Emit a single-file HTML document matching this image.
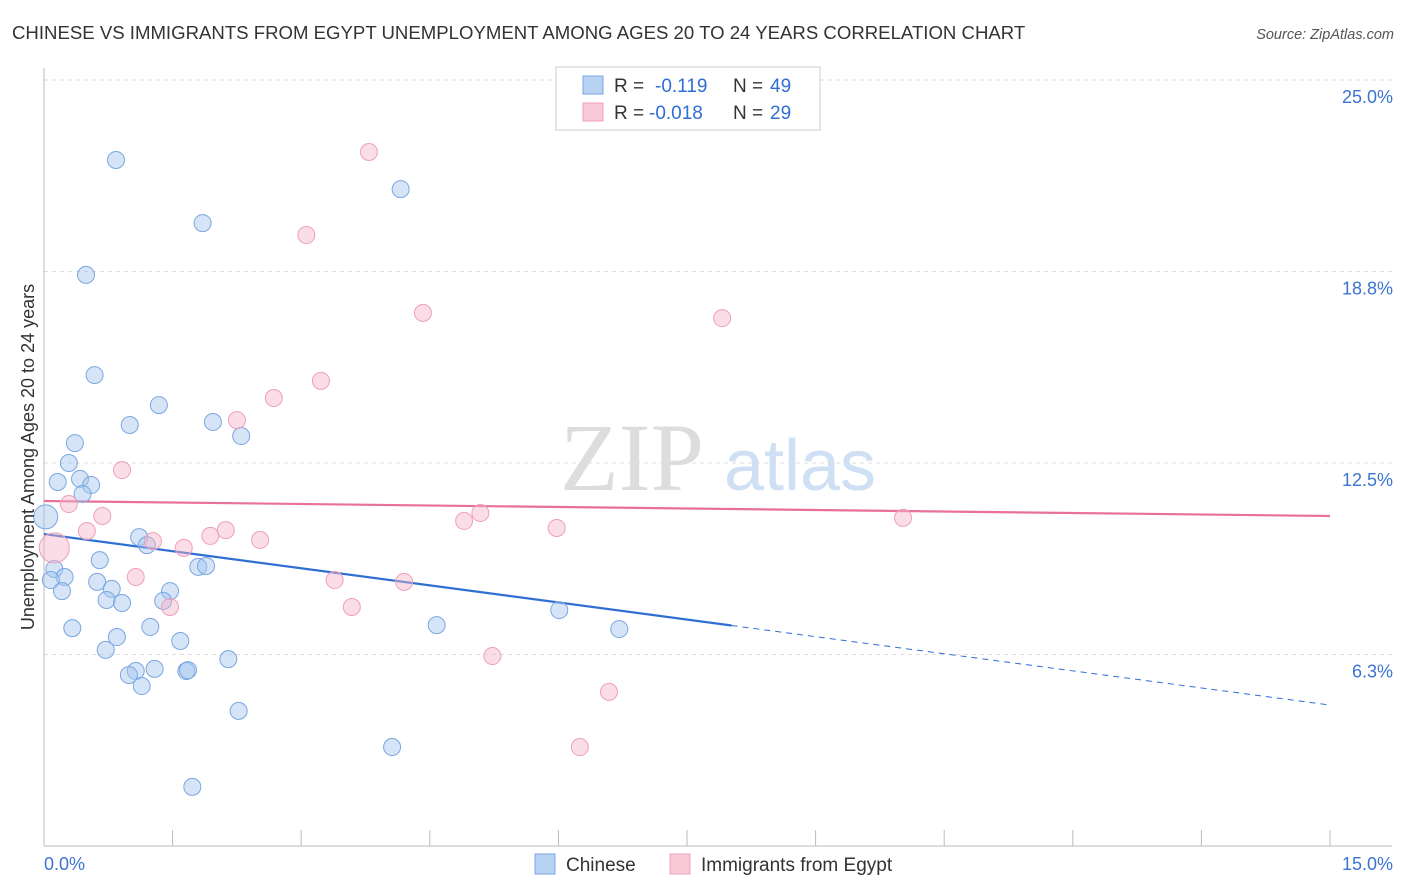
<!DOCTYPE html>
<html><head><meta charset="utf-8"><style>
body{margin:0;background:#fff;font-family:"Liberation Sans",sans-serif}
svg{display:block}
</style></head><body>
<svg id="chart" width="1406" height="892" xmlns="http://www.w3.org/2000/svg">
<text x="12" y="39" font-size="18.6" fill="#333">CHINESE VS IMMIGRANTS FROM EGYPT UNEMPLOYMENT AMONG AGES 20 TO 24 YEARS CORRELATION CHART</text>
<text x="1394" y="39" font-size="14.5" fill="#555" text-anchor="end" font-style="italic">Source: ZipAtlas.com</text>
<g>
<text x="632" y="490" font-size="96" fill="#ddd" text-anchor="middle" font-family="Liberation Serif,serif">ZIP</text>
<text x="800" y="490" font-size="72" fill="#cfe0f4" text-anchor="middle">atlas</text>
</g>
<g id="grid"></g>
<g id="axes"></g>
<g id="trends"></g>
<g id="points"></g>
<g>
<rect x="556" y="67" width="264" height="63" fill="#fff" stroke="#ccc"/>
<rect x="583" y="76" width="20" height="18" fill="#b8d2f3" stroke="#7aa7e0"/>
<rect x="583" y="103" width="20" height="18" fill="#f9c9d8" stroke="#eea0bc"/>
<text x="614" y="92" font-size="19" fill="#333">R = <tspan x="655" fill="#2f6fd3">-0.119</tspan><tspan x="733">N = </tspan><tspan x="770" fill="#2f6fd3">49</tspan></text>
<text x="614" y="119" font-size="19" fill="#333">R = <tspan x="649" fill="#2f6fd3">-0.018</tspan><tspan x="733">N = </tspan><tspan x="770" fill="#2f6fd3">29</tspan></text>
</g>
<g>
<rect x="535" y="854" width="20" height="20" fill="#b8d2f3" stroke="#7aa7e0"/>
<text x="566" y="871" font-size="19" fill="#333">Chinese</text>
<rect x="670" y="854" width="20" height="20" fill="#f9c9d8" stroke="#eea0bc"/>
<text x="701" y="871" font-size="19" fill="#333">Immigrants from Egypt</text>
</g>
<text transform="translate(34,457) rotate(-90)" font-size="18" fill="#333" text-anchor="middle">Unemployment Among Ages 20 to 24 years</text>
</svg>
<script>
const yTicks=[25,18.75,12.5,6.25];
const yTickLabels=["25.0%","18.8%","12.5%","6.3%"];
const xTickLabels=["0.0%","15.0%"];
const blueX=[0.84,4.16,1.85,0.49,0.59,1.34,1.00,1.97,2.30,0.36,0.29,0.16,0.42,0.55,0.45,0.02,1.11,1.20,0.12,0.24,0.08,0.21,0.65,0.62,0.79,1.47,1.80,1.89,0.73,0.91,1.39,0.33,1.24,0.85,1.59,4.58,6.01,6.71,0.72,2.15,1.07,0.99,1.29,1.66,1.68,1.14,2.27,4.06,1.73];
const blueY=[22.39,21.44,20.33,18.64,15.37,14.39,13.74,13.84,13.38,13.15,12.50,11.88,11.98,11.78,11.49,10.74,10.08,9.82,9.04,8.78,8.68,8.32,9.33,8.62,8.39,8.32,9.11,9.14,8.03,7.93,8.00,7.11,7.15,6.82,6.69,7.21,7.70,7.08,6.40,6.10,5.71,5.58,5.78,5.71,5.74,5.22,4.41,3.23,1.93];
const pinkX=[3.79,3.06,4.42,7.91,3.23,2.68,2.25,0.91,0.29,0.68,0.50,0.12,1.27,1.63,1.94,2.12,2.52,4.90,5.09,5.98,10.02,1.07,3.39,4.20,1.47,3.59,5.23,6.59,6.25];
const pinkY=[22.65,19.94,17.40,17.23,15.18,14.62,13.90,12.27,11.16,10.77,10.28,9.73,9.95,9.73,10.12,10.31,9.99,10.61,10.87,10.38,10.71,8.78,8.68,8.62,7.80,7.80,6.20,5.03,3.23];
const blueTrend=[10.18,4.60];
const pinkTrend=[11.26,10.77];
const NS="http://www.w3.org/2000/svg";
const xs=v=>44+v/15*1286;
const ys=v=>846-v/25*766;
function mk(tag,attrs,parent){const e=document.createElementNS(NS,tag);for(const k in attrs)e.setAttribute(k,attrs[k]);parent.appendChild(e);return e;}
const grid=document.getElementById('grid'),axes=document.getElementById('axes'),tr=document.getElementById('trends'),pts=document.getElementById('points');
yTicks.forEach((t,i)=>{
 const l=mk('line',{x1:44,x2:1392,y1:ys(t),y2:ys(t),stroke:'#ddd','stroke-dasharray':'4,4'},grid);
 
 
 const tx=mk('text',{x:1393,y:ys(t)+23,'font-size':18,fill:'#3a75d0','text-anchor':'end'},axes);
 tx.textContent=yTickLabels[i];
 
 
});
mk('line',{x1:44,x2:44,y1:68,y2:846,stroke:'#bbb'},axes);
mk('line',{x1:44,x2:1392,y1:846,y2:846,stroke:'#bbb'},axes);
for(let i=1;i<=10;i++){const x=xs(i*1.5);const t=mk('line',{x1:x,x2:x,y1:830,y2:846,stroke:'#bbb'},axes);}
const xl0=mk('text',{x:44,y:870,'font-size':18,fill:'#3a75d0'},axes);xl0.textContent=xTickLabels[0];


const xl1=mk('text',{x:1393,y:870,'font-size':18,fill:'#3a75d0','text-anchor':'end'},axes);xl1.textContent=xTickLabels[1];


function drawPts(X,Y,fill,stroke,name,bigIdx,bigR){X.forEach((x,i)=>{const r=(i===bigIdx)?bigR:8.5;const c=mk('circle',{cx:xs(x),cy:ys(Y[i]),r:r,fill:fill,stroke:stroke,'stroke-width':1},pts);
 
 });}
drawPts(blueX,blueY,'rgba(164,196,240,0.45)','#7aa7e0','point-chinese',15,12);
drawPts(pinkX,pinkY,'rgba(245,180,200,0.45)','#eea0bc','point-egypt',11,15);
const bAt=x=>blueTrend[0]+(blueTrend[1]-blueTrend[0])*x/15;
const b1=mk('line',{x1:xs(0),y1:ys(bAt(0)),x2:xs(8.02),y2:ys(bAt(8.02)),stroke:'#2f6fd3','stroke-width':2.2},tr);


const b2=mk('line',{x1:xs(8.02),y1:ys(bAt(8.02)),x2:xs(15),y2:ys(bAt(15)),stroke:'#2f6fd3','stroke-width':1,'stroke-dasharray':'6,5'},tr);


const p1=mk('line',{x1:xs(0),y1:ys(pinkTrend[0]),x2:xs(15),y2:ys(pinkTrend[1]),stroke:'#e8709a','stroke-width':2.2},tr);


</script>
</body></html>
